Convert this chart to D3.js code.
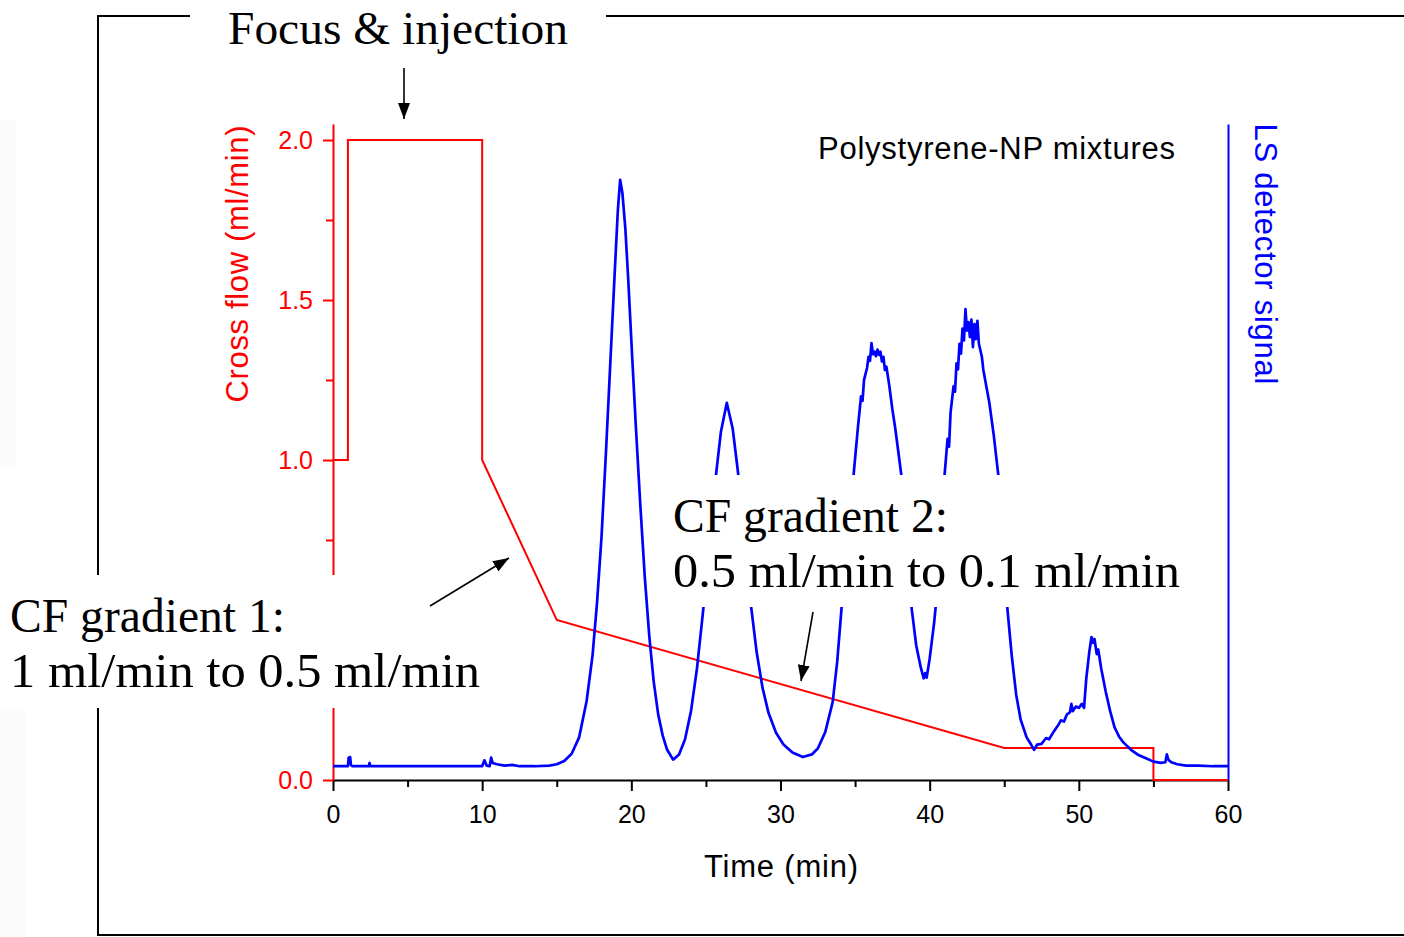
<!DOCTYPE html>
<html>
<head>
<meta charset="utf-8">
<script src="https://cdn.jsdelivr.net/npm/d3@7"></script>
<style>
body { margin: 0; background: #fff; }
.sans { font-family: "Liberation Sans", Arial, sans-serif; }
.serif { font-family: "Liberation Serif", "DejaVu Serif", serif; }
</style>
</head>
<body>
<div id="chart"></div>
<script>
// cross flow program: time (min) and flow (ml/min)
var flowTime = [0, 1, 1, 10, 10, 15, 45, 55, 55, 60];
var flowRate = [1, 1, 2, 2, 1, 0.5, 0.1, 0.1, 0, 0];

// LS detector trace: time (min), signal (a.u., 0-100)
var lsTime = [0, 1.0, 1.05, 1.15, 1.2, 1.3, 2.4, 2.45, 2.5, 10.0, 10.15, 10.3, 10.5, 10.6, 10.7, 11.0, 11.5, 12.0, 12.5, 13.5, 14.5,
  15.0, 15.5, 16.0, 16.5, 17.0, 17.4, 17.7, 18.0, 18.3, 18.6, 18.9, 19.1, 19.25, 19.4, 19.6, 19.8, 20.0, 20.3, 20.6, 20.9,
  21.2, 21.5, 21.8, 22.1, 22.4, 22.8, 23.2, 23.6, 24.0, 24.4, 24.8, 25.2, 25.6, 26.0, 26.4, 26.8, 27.2, 27.6, 28.0, 28.4,
  28.8, 29.2, 29.7, 30.2, 30.8, 31.5, 32.1, 32.5, 33.0, 33.5, 33.8, 34.1, 34.5, 34.9, 35.2, 35.4, 35.5, 35.6, 35.8, 35.9,
  36.0, 36.1, 36.2, 36.3, 36.4, 36.5, 36.6, 36.7, 36.8, 36.9, 37.0, 37.1, 37.3, 37.5, 37.7, 37.9, 38.1, 38.4, 38.8, 39.1,
  39.4, 39.6, 39.7, 39.8, 40.0, 40.3, 40.6, 40.8, 41.0, 41.2, 41.3, 41.4, 41.6, 41.7, 41.8, 41.9, 42.0, 42.1, 42.2, 42.3,
  42.4, 42.5, 42.6, 42.7, 42.8, 42.9, 43.0, 43.1, 43.2, 43.3, 43.4, 43.5, 43.6, 43.8, 44.0, 44.3, 44.6, 44.9, 45.2, 45.5,
  45.8, 46.1, 46.5, 46.8, 47.0, 47.2, 47.5, 47.8, 48.0, 48.3, 48.6, 48.8, 49.0, 49.2, 49.4, 49.5, 49.6, 49.8, 50.0, 50.2,
  50.35, 50.5, 50.7, 50.85, 50.95, 51.05, 51.2, 51.3, 51.5, 51.8, 52.1, 52.4, 52.7, 53.0, 53.5, 54.0, 54.5, 55.0, 55.5,
  55.8, 55.9, 56.0, 56.2, 56.6, 57.2, 58.0, 59.0, 60.0];
var lsSignal = [2.1, 2.1, 3.4, 3.5, 2.3, 2.1, 2.1, 2.6, 2.1, 2.1, 3.0, 2.2, 2.1, 3.4, 2.6, 2.4, 2.2, 2.3, 2.1, 2.1, 2.2,
  2.4, 2.9, 4.0, 6.5, 12.0, 19.0, 27.0, 37.0, 50.0, 64.0, 78.0, 87.0, 91.5, 89.5, 84.0, 76.0, 67.0, 54.0, 42.0, 31.0,
  22.0, 15.0, 10.0, 6.8, 4.6, 3.1, 3.9, 6.2, 10.5, 17.0, 25.5, 35.0, 45.0, 53.0, 57.5, 53.5, 46.0, 37.0, 27.0, 19.5,
  14.0, 10.2, 7.2, 5.4, 4.2, 3.5, 3.9, 4.8, 7.3, 11.9, 18.0, 26.4, 36.0, 46.5, 54.0, 58.5, 57.8, 61.0, 62.8, 64.5,
  63.9, 66.6, 64.9, 65.3, 64.6, 65.6, 64.8, 65.3, 63.8, 64.5, 62.5, 63.0, 60.0, 56.5, 53.5, 50.0, 46.5, 37.0, 26.0, 20.5,
  17.2, 15.5, 16.3, 15.6, 18.5, 24.0, 31.0, 38.0, 46.5, 52.0, 50.8, 56.0, 60.0, 59.2, 63.5, 62.6, 66.5, 65.0, 68.8, 67.0,
  71.8, 68.5, 69.8, 67.5, 70.2, 66.0, 69.5, 67.2, 70.0, 66.5, 65.5, 64.5, 62.5, 60.0, 57.5, 52.5, 46.5, 36.0, 26.4, 19.0,
  13.0, 9.2, 6.5, 5.4, 4.6, 5.4, 5.5, 6.4, 6.2, 7.3, 8.3, 9.1, 8.9, 10.0, 10.3, 11.6, 10.5, 11.2, 11.0, 11.6,
  11.0, 15.5, 19.5, 21.8, 20.9, 21.5, 19.2, 19.9, 17.0, 13.5, 10.5, 8.0, 6.6, 5.7, 4.6, 3.8, 3.3, 2.8, 2.6,
  2.7, 3.9, 3.1, 2.7, 2.4, 2.2, 2.2, 2.1, 2.1];

var xTicks = [0, 10, 20, 30, 40, 50, 60];
var xMinorTicks = [5, 15, 25, 35, 45, 55];
var yTicks = [0, 1.0, 1.5, 2.0];          // 0.5 sits under the gradient 1 note
var yMinorTicks = [0.25, 0.5, 0.75, 1.25, 1.75];

var w = 1404;
var h = 937;
var red = "#ff0000";
var blue = "#0000ff";

var svg = d3.select("#chart")
    .append("svg")
    .attr("width", w)
    .attr("height", h);

svg.append("rect").attr("width", w).attr("height", h).attr("fill", "#fff");

// faint strips on the left edge of the screenshot
svg.append("rect").attr("x", 0).attr("y", 120).attr("width", 16).attr("height", 348).attr("fill", "#fbfbfb");
svg.append("rect").attr("x", 0).attr("y", 707).attr("width", 25).attr("height", 230).attr("fill", "#fbfbfb");

// outer frame (right side runs off the picture)
svg.append("rect")
    .attr("x", 98).attr("y", 16)
    .attr("width", 1330).attr("height", 919)
    .attr("fill", "none")
    .attr("stroke", "#000")
    .attr("stroke-width", 2);

var xScale = d3.scaleLinear().domain([0, 60]).range([333, 1228]);
var yFlow = d3.scaleLinear().domain([0, 2.05]).range([780, 124]);
var ySig = d3.scaleLinear().domain([0, 100]).range([780, 124]);

// bottom axis
var xAxis = d3.axisBottom(xScale).tickValues(xTicks).tickSize(11).tickSizeOuter(0).tickPadding(14);
var xMinor = d3.axisBottom(xScale).tickValues(xMinorTicks).tickSize(7).tickSizeOuter(0).tickFormat("");

var gx = svg.append("g")
    .attr("transform", "translate(0,780)")
    .call(xAxis);
gx.selectAll("text").attr("class", "sans").style("font-size", "25px").attr("fill", "#000");
svg.append("g")
    .attr("transform", "translate(0,780)")
    .call(xMinor)
    .select(".domain").remove();

// left axis (cross flow, red)
var yAxis = d3.axisLeft(yFlow).tickValues(yTicks).tickSize(10).tickSizeOuter(0).tickPadding(10)
    .tickFormat(d3.format(".1f"));
var yMinor = d3.axisLeft(yFlow).tickValues(yMinorTicks).tickSize(7).tickSizeOuter(0).tickFormat("");

var gy = svg.append("g")
    .attr("transform", "translate(333,0)")
    .style("color", red)
    .call(yAxis);
gy.selectAll("text").attr("class", "sans").style("font-size", "25px");
svg.append("g")
    .attr("transform", "translate(333,0)")
    .style("color", red)
    .call(yMinor)
    .select(".domain").remove();

// right axis (LS signal, blue, no ticks)
svg.append("g")
    .attr("transform", "translate(1228,0)")
    .style("color", blue)
    .call(d3.axisRight(ySig).tickValues([]).tickSizeOuter(0));

svg.selectAll(".domain, .tick line").attr("stroke-width", 2);

// cross flow line
var flowData = d3.zip(flowTime, flowRate);
var flowLine = d3.line()
    .x(function(d) { return xScale(d[0]); })
    .y(function(d) { return yFlow(d[1]); });

svg.append("path")
    .datum(flowData)
    .attr("fill", "none")
    .attr("stroke", red)
    .attr("stroke-width", 2)
    .attr("d", flowLine);

// LS detector line
var lsData = d3.zip(lsTime, lsSignal);
var lsLine = d3.line()
    .x(function(d) { return xScale(d[0]); })
    .y(function(d) { return ySig(d[1]); });

svg.append("path")
    .datum(lsData)
    .attr("fill", "none")
    .attr("stroke", blue)
    .attr("stroke-width", 2.7)
    .attr("stroke-linejoin", "round")
    .attr("d", lsLine);

// axis titles
svg.append("text")
    .attr("class", "sans")
    .attr("x", 781).attr("y", 877)
    .attr("text-anchor", "middle")
    .attr("textLength", 154)
    .style("font-size", "31px")
    .text("Time (min)");

svg.append("text")
    .attr("class", "sans")
    .attr("transform", "translate(248,264) rotate(-90)")
    .attr("text-anchor", "middle")
    .attr("fill", red)
    .attr("textLength", 277)
    .style("font-size", "31px")
    .text("Cross flow (ml/min)");

svg.append("text")
    .attr("class", "sans")
    .attr("transform", "translate(1255,254) rotate(90)")
    .attr("text-anchor", "middle")
    .attr("fill", blue)
    .attr("textLength", 261)
    .style("font-size", "31px")
    .text("LS detector signal");

svg.append("text")
    .attr("class", "sans")
    .attr("x", 818).attr("y", 159)
    .attr("textLength", 357)
    .style("font-size", "31px")
    .text("Polystyrene-NP mixtures");

// annotation boxes (white backgrounds hide what is behind them)
svg.append("rect").attr("x", 190).attr("y", 0).attr("width", 416).attr("height", 56).attr("fill", "#fff");
svg.append("rect").attr("x", 0).attr("y", 575).attr("width", 492).attr("height", 133).attr("fill", "#fff");
svg.append("rect").attr("x", 660).attr("y", 475).attr("width", 530).attr("height", 132).attr("fill", "#fff");

var notes = [
    { t: "Focus & injection", x: 228, y: 44, len: 340, size: 46 },
    { t: "CF gradient 1:", x: 10, y: 632, len: 275, size: 48 },
    { t: "1 ml/min to 0.5 ml/min", x: 10, y: 687, len: 470, size: 48 },
    { t: "CF gradient 2:", x: 673, y: 532, len: 275, size: 48 },
    { t: "0.5 ml/min to 0.1 ml/min", x: 673, y: 587, len: 507, size: 48 }
];
svg.selectAll(".note")
    .data(notes)
    .enter().append("text")
    .attr("class", "note serif")
    .attr("x", function(d) { return d.x; })
    .attr("y", function(d) { return d.y; })
    .attr("textLength", function(d) { return d.len; })
    .attr("lengthAdjust", "spacingAndGlyphs")
    .style("font-size", function(d) { return d.size + "px"; })
    .text(function(d) { return d.t; });

// arrows
svg.append("defs").append("marker")
    .attr("id", "head")
    .attr("markerUnits", "userSpaceOnUse")
    .attr("viewBox", "0 0 16 12")
    .attr("markerWidth", 16).attr("markerHeight", 12)
    .attr("refX", 16).attr("refY", 6)
    .attr("orient", "auto")
    .append("path")
    .attr("d", "M0,0L16,6L0,12Z")
    .attr("fill", "#000");

var arrows = [
    [404, 68, 404, 119],
    [430, 606, 509, 558],
    [813, 612, 801, 681]
];
svg.selectAll(".arrow")
    .data(arrows)
    .enter().append("line")
    .attr("class", "arrow")
    .attr("x1", function(d) { return d[0]; })
    .attr("y1", function(d) { return d[1]; })
    .attr("x2", function(d) { return d[2]; })
    .attr("y2", function(d) { return d[3]; })
    .attr("stroke", "#000")
    .attr("stroke-width", 1.6)
    .attr("marker-end", "url(#head)");
</script>
</body>
</html>
